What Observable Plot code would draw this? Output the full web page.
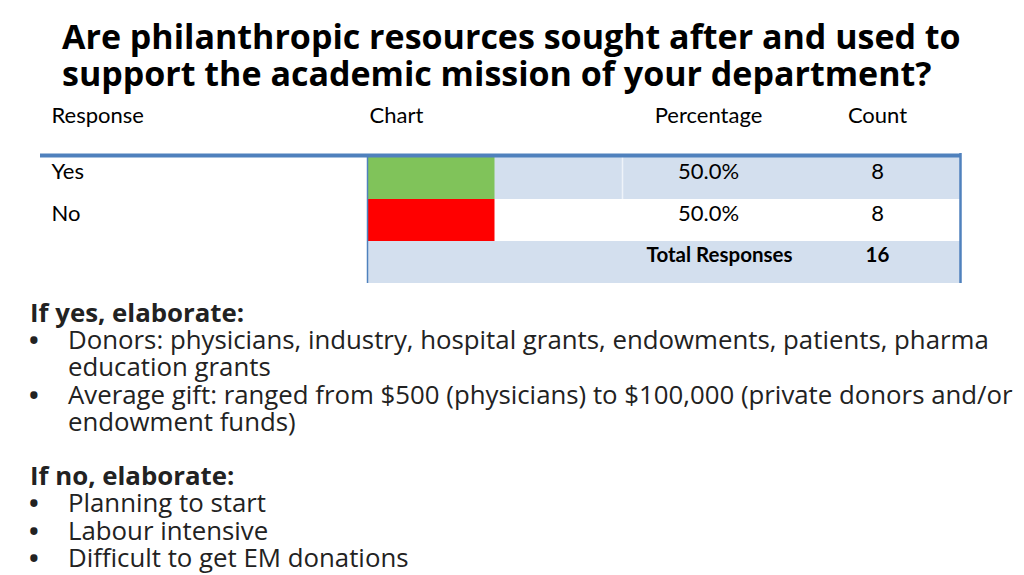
<!DOCTYPE html>
<html>
<head>
<meta charset="utf-8">
<script src="https://cdn.jsdelivr.net/npm/d3@7"></script>
<script src="https://cdn.jsdelivr.net/npm/@observablehq/plot@0.6"></script>
<style>
  html, body { margin: 0; padding: 0; background: #fff; }
  #page { position: relative; width: 1024px; height: 575px; overflow: hidden; background: #fff; }
  #title { position: absolute; left: 62px; top: 18px; font-family: "Open Sans", sans-serif; font-weight: 700; font-size: 34px; line-height: 37px; color: #000; white-space: nowrap; }
  #table { position: absolute; left: 0; top: 95px; }
  #notes { position: absolute; left: 30px; top: 299px; font-family: "Open Sans", sans-serif; font-size: 25.8px; line-height: 27.2px; color: #222; white-space: nowrap; }
  #notes .h { font-weight: 700; }
  #notes .li { position: relative; padding-left: 38px; }
  #notes .bullet { position: absolute; left: -1px; top: 0; font-weight: 700; }
  #notes .gap { height: 27.2px; }
</style>
</head>
<body>
<div id="page">
  <div id="title">Are philanthropic resources sought after and used to<br>support the academic mission of your department?</div>
  <div id="table"></div>
  <div id="notes"></div>
</div>
<script>
// ---- data ----
const headers = ["Response", "Chart", "Percentage", "Count"];
const responses = ["Yes", "No"];
const percentages = [50.0, 50.0];
const counts = [8, 8];
const totalLabel = "Total Responses";
const totalCount = 16;
const yesHeading = "If yes, elaborate:";
const yesItems = [
  ["Donors: physicians, industry, hospital grants, endowments, patients, pharma", "education grants"],
  ["Average gift: ranged from $500 (physicians) to $100,000 (private donors and/or", "endowment funds)"]
];
const noHeading = "If no, elaborate:";
const noItems = [["Planning to start"], ["Labour intensive"], ["Difficult to get EM donations"]];

// ---- table ----
const rows = responses.map((r, i) => ({response: r, pct: percentages[i], count: counts[i]}));
const rowKeys = [...responses, "Total"];
// pixel layout -> percent units of the chart column
const px = d3.scaleLinear([367, 622], [0, 100]);
const colLeft = {Response: 51, Chart: 369};
const colMid = {Percentage: 708, Count: 877};
const blue = "#4f81bd", light = "#d3dfee";
const font = "Lato, 'Open Sans', sans-serif";

const chart = Plot.plot({
  width: 1024, height: 195, margin: 0,
  x: {type: "linear", domain: [0, 100], range: [367, 622], axis: null},
  y: {type: "band", domain: rowKeys, range: [62, 188], padding: 0, axis: null},
  color: {domain: responses, range: ["#80c35a", "#ff0000"]},
  style: {fontFamily: font, fontSize: "22px", color: "#000", background: "transparent"},
  marks: [
    // shaded rows
    Plot.barX([rowKeys[0], rowKeys[2]], {y: d => d, x1: () => px(367), x2: () => px(960), fill: light}),
    // column separator in shaded row
    Plot.ruleX([100], {stroke: "#eef3f9", strokeWidth: 1.5, insetTop: 62, insetBottom: 195 - 104}),
    // bars
    Plot.barX(rows, {y: "response", x: "pct", fill: "response"}),
    // header rule
    Plot.ruleY([rowKeys[0]], {y: d => d, x1: () => px(40), x2: () => px(961), stroke: blue, strokeWidth: 4, dy: -23}),
    // vertical borders
    Plot.ruleX([0], {stroke: blue, strokeWidth: 1.5, insetTop: 61, insetBottom: 195 - 188}),
    Plot.ruleX([px(960)], {stroke: blue, strokeWidth: 2.5, insetTop: 58, insetBottom: 195 - 188}),
    // headers
    Plot.text(headers.filter(h => h in colLeft), {x: d => px(colLeft[d]), text: d => d, frameAnchor: "top", lineAnchor: "middle", dy: 20, textAnchor: "start", fill: "#000"}),
    Plot.text(headers.filter(h => h in colMid), {x: d => px(colMid[d]), text: d => d, frameAnchor: "top", lineAnchor: "middle", dy: 20, textAnchor: "middle", fill: "#000"}),
    // row values
    Plot.text(rows, {y: "response", x: () => px(colLeft.Response), text: "response", textAnchor: "start", dy: -7, fill: "#000"}),
    Plot.text(rows, {y: "response", x: () => px(colMid.Percentage), text: d => d.pct.toFixed(1) + "%", dy: -7, fill: "#000"}),
    Plot.text(rows, {y: "response", x: () => px(colMid.Count), text: d => String(d.count), dy: -7, fill: "#000"}),
    // total
    Plot.text([totalLabel], {y: () => "Total", x: () => px(719), text: d => d, dy: -7, fontSize: 20.5, fontWeight: "bold", fill: "#000"}),
    Plot.text([totalCount], {y: () => "Total", x: () => px(colMid.Count), text: d => String(d), dy: -7, fontSize: 20.5, fontWeight: "bold", fill: "#000"})
  ]
});
document.getElementById("table").appendChild(chart);

// ---- notes ----
const notes = document.getElementById("notes");
function addHeading(t) { const d = document.createElement("div"); d.className = "h"; d.textContent = t; notes.appendChild(d); }
function addItems(items) {
  items.forEach(lines => {
    const d = document.createElement("div"); d.className = "li";
    const b = document.createElement("span"); b.className = "bullet"; b.textContent = "•"; d.appendChild(b);
    lines.forEach(l => { const s = document.createElement("div"); s.textContent = l; d.appendChild(s); });
    notes.appendChild(d);
  });
}
addHeading(yesHeading); addItems(yesItems);
const g = document.createElement("div"); g.className = "gap"; notes.appendChild(g);
addHeading(noHeading); addItems(noItems);
</script>
</body>
</html>
